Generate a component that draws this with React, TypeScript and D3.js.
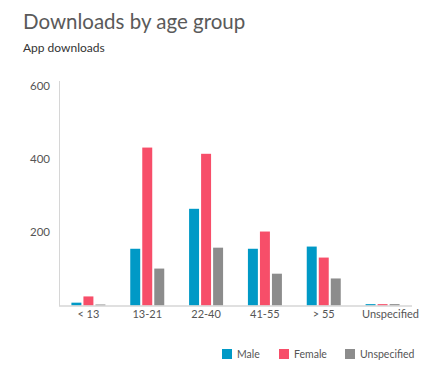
import React from "react";
import * as d3 from "d3";

const categories = ["< 13", "13-21", "22-40", "41-55", "> 55", "Unspecified"];
const seriesNames = ["Male", "Female", "Unspecified"];
const maleValues = [8, 155, 264, 155, 161, 4];
const femaleValues = [25, 431, 414, 202, 131, 4];
const unspecifiedValues = [3, 101, 158, 87, 74, 4];
const yTicks = [200, 400, 600];
const colors = ["#0099C6", "#F74E69", "#8C8C8C"];

const W = 438;
const H = 379;
const FONT = "'Segoe UI', Lato, 'Open Sans', sans-serif";

export default function App() {
  const series = [maleValues, femaleValues, unspecifiedValues];
  const x = d3.scaleBand<string>().domain(categories).range([59, 412]).padding(0);
  const y = d3.scaleLinear().domain([0, 600]).range([305.6, 85.6]);
  const inner = d3.scaleBand<string>().domain(seriesNames).range([-17, 17]).paddingInner(0.17);

  const legendX = [222, 279, 345];

  return (
    <svg
      width={W}
      height={H}
      style={{ position: "absolute", left: 0, top: 0, background: "#fff" }}
      fontFamily={FONT}
    >
      <text x={23} y={29} fontSize={20.5} fill="#5a5a5a">
        Downloads by age group
      </text>
      <text x={23} y={52} fontSize={12} fill="#333">
        App downloads
      </text>

      {/* y axis */}
      <line x1={59.5} x2={59.5} y1={81} y2={306} stroke="#d6d6d6" strokeWidth={1} />
      {yTicks.map((t) => (
        <text key={t} x={50} y={y(t)} dy="0.35em" textAnchor="end" fontSize={11.5} fill="#555">
          {t}
        </text>
      ))}

      {/* bars */}
      {categories.map((c, i) => {
        const cx = (x(c) as number) + x.bandwidth() / 2;
        const isLast = i === categories.length - 1;
        return (
          <g key={c}>
            {series.map((vals, s) => (
              <rect
                key={s}
                x={cx + (inner(seriesNames[s]) as number)}
                y={y(vals[i])}
                width={inner.bandwidth()}
                height={y(0) - y(vals[i])}
                fill={colors[s]}
              />
            ))}
            <text
              x={isLast ? 419 : cx}
              y={318}
              textAnchor={isLast ? "end" : "middle"}
              fontSize={11}
              fill="#555"
            >
              {c}
            </text>
          </g>
        );
      })}

      {/* x axis */}
      <line x1={59} x2={412} y1={306} y2={306} stroke="#d6d6d6" strokeWidth={1.5} />

      {/* legend */}
      {seriesNames.map((n, s) => (
        <g key={n}>
          <rect x={legendX[s]} y={349} width={10} height={10} fill={colors[s]} />
          <text x={legendX[s] + 15} y={354.5} dy="0.35em" fontSize={10.5} fill="#555">
            {n}
          </text>
        </g>
      ))}
    </svg>
  );
}
